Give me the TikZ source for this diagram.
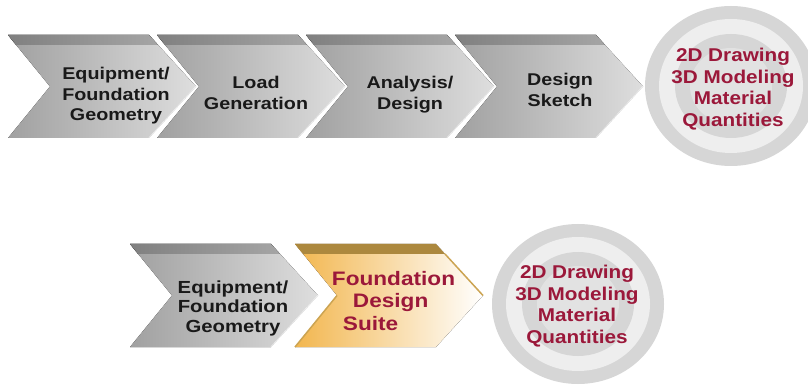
\documentclass[tikz,border=0pt]{standalone}
\usepackage{fontspec}
\newfontfamily\chevfont[FakeStretch=1.16]{Liberation Sans}
\newfontfamily\ringfont[FakeStretch=1.12]{Liberation Sans}
\definecolor{txtdark}{RGB}{25,25,25}
\definecolor{txtred}{RGB}{155,24,58}
\definecolor{greyL}{RGB}{160,160,160}
\definecolor{greyR}{RGB}{222,222,222}
\definecolor{bevelL}{RGB}{128,128,128}
\definecolor{bevelR}{RGB}{165,165,165}
\definecolor{goldL}{RGB}{242,182,78}
\definecolor{goldbevel}{RGB}{172,136,62}
\definecolor{goldedge}{RGB}{204,164,82}
\definecolor{ringdark}{RGB}{214,214,214}
\definecolor{ringlight}{RGB}{238,238,238}
\definecolor{ringmid}{RGB}{226,226,226}
\tikzset{
  greyface/.style={left color=greyL, right color=greyR},
  greybevel/.style={left color=bevelL, right color=bevelR},
  goldface/.style={left color=goldL, right color=white},
  chevtext/.style={font=\chevfont\bfseries\fontsize{17}{20.5}\selectfont, text=txtdark, align=center},
  ringtext/.style={font=\ringfont\bfseries\fontsize{18.5}{21.5}\selectfont, text=txtred, align=center}
}

\begin{document}
\begin{tikzpicture}[x=1pt,y=-1pt]
\useasboundingbox (0,0) rectangle (808,387);

% top row
\foreach \x in {8,157,306,455} {
  \fill[greyface] (\x,35) -- ++(141,0) -- ++(47,51.5) -- ++(-47,51.5) -- ++(-141,0) -- ++(42,-51.5) -- cycle;
  \fill[greybevel] (\x,35) -- ++(141,0) -- ++(9.1,10) -- ++(-141.9,0) -- cycle;
  \draw[white, opacity=.7, line width=1pt] (\x+188,86.5) -- ++(-47,51.5);
}
\fill[ringdark] (731,86) ellipse [x radius=86, y radius=80];
\fill[ringlight] (731,86) ellipse [x radius=72, y radius=67];
\fill[ringdark] (731,86) ellipse [x radius=56, y radius=52];
\fill[ringmid] (731,86) ellipse [x radius=41, y radius=38];

\node[chevtext] (geomA) at (116,96) {Equipment/\\Foundation\\Geometry};
\node[chevtext] (load) at (256,93) {Load\\Generation};
\node[chevtext] (anal) at (410,94.5) {Analysis/\\Design};
\node[chevtext] (sketch) at (560,90) {Design\\Sketch};
\node[ringtext] (outA) at (733,89) {2D Drawing\\3D Modeling\\Material\\Quantities};

% bottom row
\fill[greyface] (130,244) -- ++(141,0) -- ++(47,51.5) -- ++(-47,51.5) -- ++(-141,0) -- ++(42,-51.5) -- cycle;
\fill[greybevel] (130,244) -- ++(141,0) -- ++(9.1,10) -- ++(-141.9,0) -- cycle;
\draw[white, opacity=.7, line width=1pt] (318,295.5) -- ++(-47,51.5);

\fill[goldface] (295,244) -- ++(141,0) -- ++(47,51.5) -- ++(-47,51.5) -- ++(-141,0) -- ++(42,-51.5) -- cycle;
\fill[goldbevel] (295,244) -- ++(141,0) -- ++(9.1,10) -- ++(-141.9,0) -- cycle;
\draw[goldedge, line width=1.5pt] (445,254) -- (483,295.5);
\draw[goldedge, line width=1.5pt] (337,295.5) -- (295,347);

\fill[ringdark] (578,304) ellipse [x radius=86, y radius=80];
\fill[ringlight] (578,304) ellipse [x radius=72, y radius=67];
\fill[ringdark] (578,304) ellipse [x radius=56, y radius=52];
\fill[ringmid] (578,304) ellipse [x radius=41, y radius=38];

\node[chevtext, font=\chevfont\bfseries\fontsize{17.5}{19.5}\selectfont] (geomB) at (233,308) {Equipment/\\Foundation\\Geometry};
\node[chevtext, align=left, text=txtred, font=\chevfont\bfseries\fontsize{19.5}{22.5}\selectfont] (suite) at (393.5,301) {Foundation\\\hspace*{21pt}Design\\\hspace*{11pt}Suite};
\node[ringtext] (outB) at (577,306) {2D Drawing\\3D Modeling\\Material\\Quantities};
\end{tikzpicture}
\end{document}
